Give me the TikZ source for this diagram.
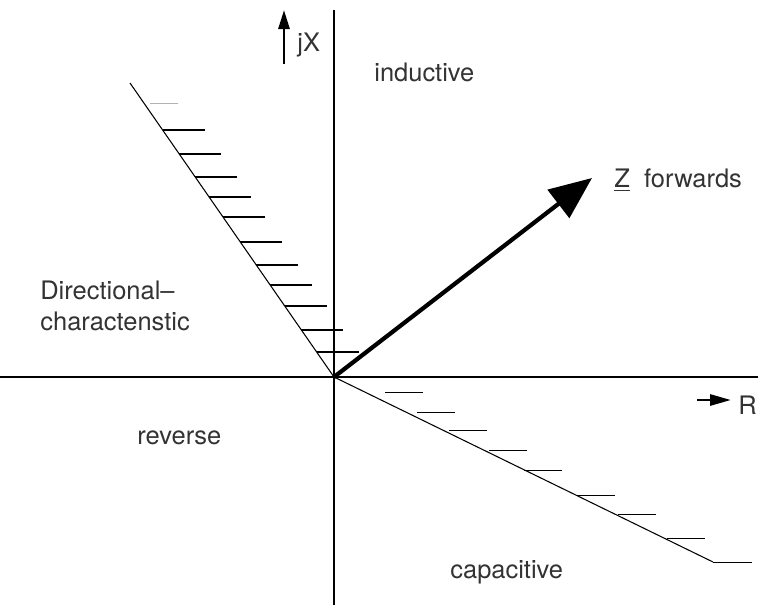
\documentclass[tikz,border=0pt]{standalone}
\usepackage{fontspec}
\setsansfont{TeX Gyre Heros}
\usetikzlibrary{arrows.meta, calc}

\tikzset{
  axis/.style={line width=1.1pt},
  charline/.style={line width=0.6pt},
  hatch/.style={line width=0.8pt},
  hatchlow/.style={line width=0.5pt},
  lbl/.style={font=\sffamily\fontsize{14.5}{18}\selectfont, text=black!80, inner sep=0pt},
}

\begin{document}
\begin{tikzpicture}[x=0.02cm, y=-0.02cm, >=Stealth]
    \useasboundingbox (0,0) rectangle (758,609);
    % --- Achsen ---
    \coordinate (O) at (334,377);
    \coordinate (xl) at (0,377);
    \coordinate (xr) at (758,377);
    \coordinate (yt) at (334,10);
    \coordinate (yb) at (334,605);
    \draw[axis] (xl) -- (xr);
    \draw[axis] (yt) -- (yb);

    % jX und R Pfeile
    \coordinate (jxs) at (284,64);
    \coordinate (jxe) at (284,10);
    \draw[line width=1.6pt, -{Triangle[length=0.38cm, width=0.22cm]}] (jxs) -- (jxe);
    \node[lbl, anchor=west] (jX) at (297,45) {jX};
    \coordinate (rs) at (697,400);
    \coordinate (re) at (731,400);
    \draw[line width=1.6pt, -{Triangle[length=0.42cm, width=0.22cm]}] (rs) -- (re);
    \node[lbl, anchor=east] (R) at (757,405) {R};

    % --- Richtungskennlinie ---
    \coordinate (dtop) at (130,83);
    \coordinate (dbot) at (713,562);
    \coordinate (dend) at (752,562);
    \draw[charline] (dtop) -- (O) -- (dbot);
    \draw[hatchlow] (dbot) -- (dend);
    \draw[gray!60, line width=0.5pt] (150,103) -- (178,103);
    % Schraffur oben
    \foreach \yy in {130,154,177,197,217,242,265,285,306,330,352}
      \draw[hatch] ({334-0.694*(377-\yy)},\yy) -- ++(42,0);
    % Schraffur unten
    \foreach \yy/\xx in {392/385,412/417,430/449,450/489,470/524,495/577,514/618,538/667}
      \draw[hatchlow] (\xx,\yy) -- ++(38,0);

    % --- Z vorwaerts ---
    \coordinate (zend) at (592,178);
    \draw[line width=2.4pt, -{Triangle[length=0.85cm, width=0.7cm]}] (O) -- (zend);
    \node[lbl, anchor=west] (zlbl) at (614,180) {\underline{Z}\ \ forwards};

    % Labels
    \node[lbl, anchor=west] (ind) at (374,72) {inductive};
    \node[lbl, anchor=west, align=left] (dir) at (40,306) {Directional--\\charactenstic};
    \node[lbl, anchor=west] (rev) at (137,438) {reverse};
    \node[lbl, anchor=west] (cap) at (450,572) {capacitive};
\end{tikzpicture}
\end{document}
